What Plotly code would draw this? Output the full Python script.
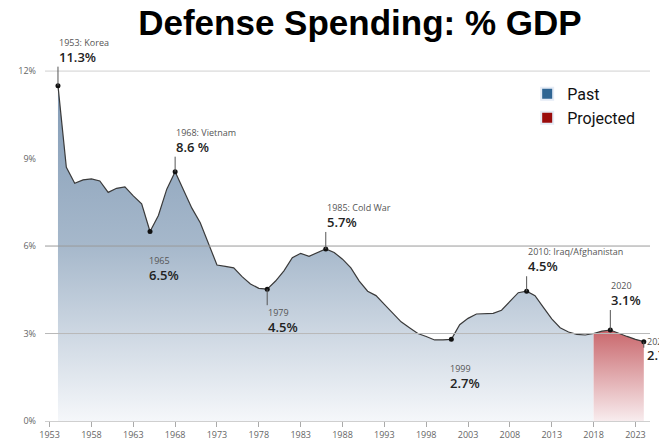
import plotly.graph_objects as go

# ---------------- data ----------------
years = list(range(1954, 2025))
spending_pct = [11.5, 8.7, 8.15, 8.27, 8.3, 8.23, 7.84, 7.98, 8.03, 7.72,
                7.45, 6.5, 7.05, 7.95, 8.55, 7.9, 7.3, 6.8, 6.1, 5.35,
                5.3, 5.25, 4.95, 4.7, 4.55, 4.52, 4.8, 5.15, 5.6, 5.75,
                5.65, 5.78, 5.9, 5.78, 5.55, 5.25, 4.8, 4.45, 4.3, 4.0,
                3.7, 3.4, 3.2, 3.0, 2.9, 2.78, 2.78, 2.8, 3.3, 3.52,
                3.67, 3.69, 3.69, 3.8, 4.1, 4.4, 4.45, 4.3, 3.9, 3.5,
                3.2, 3.05, 2.97, 2.95, 3.0, 3.08, 3.12, 3.0, 2.9, 2.8, 2.72]
projection_start = 2018

event_years = [1954, 1965, 1968, 1979, 1986, 2001, 2010, 2020, 2024]
event_labels = ["1953: Korea", "1965", "1968: Vietnam", "1979", "1985: Cold War",
                "1999", "2010: Iraq/Afghanistan", "2020", "2024"]
event_values = ["11.3%", "6.5%", "8.6 %", "4.5%", "5.7%", "2.7%", "4.5%", "3.1%", "2.7%"]

x_tick_years = list(range(1953, 2024, 5))
y_tick_values = [0, 3, 6, 9, 12]
y_tick_labels = ["0%", "3%", "6%", "9%", "12%"]
grid_values = [12, 6, 3]

# ---------------- styling ----------------
LINE = "#3a3a3a"
grid_colors = {12: "#d0d0d0", 6: "#9a9a9a", 3: "#b8b8b8"}
placement = {
    1954: ("above", -19), 1965: ("below_free", -22), 1968: ("above", -15),
    1979: ("below", 16), 1986: ("above", -17), 2001: ("below_free", -22),
    2010: ("above", -15), 2020: ("above", -20), 2024: ("right", 16),
}

value_of = dict(zip(years, spending_pct))
past_x = [y for y in years if y <= projection_start]
past_y = [value_of[y] for y in past_x]
proj_x = [y for y in years if y >= projection_start]
proj_y = [value_of[y] for y in proj_x]

fig = go.Figure()
fig.add_trace(go.Scatter(
    x=past_x, y=past_y, mode="lines", fill="tozeroy",
    line=dict(color=LINE, width=1.2),
    fillgradient=dict(type="vertical", start=0, stop=12,
                      colorscale=[[0, "#f5f7fa"], [0.5, "#a6b8cb"], [1, "#8099b4"]]),
    showlegend=False, hoverinfo="skip"))
fig.add_trace(go.Scatter(
    x=proj_x, y=proj_y, mode="lines", fill="tozeroy",
    line=dict(color=LINE, width=1.2),
    fillgradient=dict(type="vertical", start=0, stop=3.12,
                      colorscale=[[0, "#f8ecee"], [1, "#c9676c"]]),
    showlegend=False, hoverinfo="skip"))
fig.add_trace(go.Scatter(
    x=event_years, y=[value_of[y] for y in event_years], mode="markers",
    marker=dict(color="#111111", size=5), showlegend=False, hoverinfo="skip"))

# legend entries
fig.add_trace(go.Bar(x=[None], y=[None], name="Past", marker_color="#2f6593"))
fig.add_trace(go.Bar(x=[None], y=[None], name="Projected", marker_color="#9a0c0c"))

for gv in grid_values:
    fig.add_shape(type="line", xref="paper", x0=0, x1=1, yref="y", y0=gv, y1=gv,
                  line=dict(color=grid_colors[gv], width=1), layer="above")

annotations = []
for yr, lab, val in zip(event_years, event_labels, event_values):
    side, off = placement[yr]
    txt = ("<span style='font-size:9px;color:#555'>" + lab + "</span><br>"
           "<span style='font-size:13px;color:#222;font-weight:600'>" + val + "</span>")
    yv = value_of[yr]
    if side == "above":
        annotations.append(dict(x=yr, y=yv, text=txt, showarrow=True, arrowhead=0,
                                arrowwidth=1, arrowcolor="#555", ax=0, ay=off,
                                xanchor="left", yanchor="bottom", align="left",
                                standoff=0, borderpad=0))
    elif side == "below":
        annotations.append(dict(x=yr, y=yv, text=txt, showarrow=True, arrowhead=0,
                                arrowwidth=1, arrowcolor="#555", ax=0, ay=off,
                                xanchor="left", yanchor="top", align="left",
                                standoff=0, borderpad=0))
    elif side == "below_free":
        annotations.append(dict(x=yr, y=yv, text=txt, showarrow=False,
                                xanchor="left", yanchor="top", align="left",
                                yshift=off, xshift=-2, borderpad=0))
    else:
        # short drop line, then label and value as two separate texts to the right
        annotations.append(dict(x=yr, y=yv, text=" ", showarrow=True, arrowhead=0,
                                arrowwidth=1, arrowcolor="#555", ax=0, ay=off,
                                standoff=0))
        annotations.append(dict(x=yr, y=yv, text=lab, showarrow=False,
                                font=dict(size=9, color="#555"),
                                xanchor="left", yanchor="middle",
                                xshift=2, yshift=0, borderpad=0))
        annotations.append(dict(x=yr, y=yv, text=val, showarrow=False,
                                font=dict(size=13, color="#222", weight=600),
                                xanchor="left", yanchor="middle",
                                xshift=2, yshift=-13, borderpad=0))

# page body adds an 8px margin, so the figure is sized to fill the rest of the window
fig.update_layout(
    width=659, height=433,
    margin=dict(l=37, r=17, t=52, b=20, autoexpand=False),
    paper_bgcolor="white", plot_bgcolor="white",
    font=dict(family="Open Sans, sans-serif", color="#444"),
    title=dict(text="<b>Defense Spending: % GDP</b>", x=0.534, xanchor="center",
               y=0.966, yanchor="middle", yref="container",
               font=dict(family="Liberation Sans, Arial, sans-serif", size=35, color="#000")),
    showlegend=True,
    legend=dict(x=0.797, y=0.953, xanchor="left", yanchor="top",
                font=dict(family="Roboto, sans-serif", size=16, color="#111"),
                bgcolor="rgba(0,0,0,0)", tracegroupgap=0, itemsizing="constant"),
    annotations=annotations,
    xaxis=dict(range=[1952.45, 2024.74], tickvals=x_tick_years,
               ticktext=[str(t) for t in x_tick_years],
               ticks="outside", ticklen=5, tickcolor="#aaa",
               showline=True, linecolor="#cfcfcf", linewidth=1,
               showgrid=False, zeroline=False, automargin=False,
               tickfont=dict(size=9, color="#666")),
    yaxis=dict(range=[0, 12.38], tickvals=y_tick_values, ticktext=y_tick_labels,
               showgrid=False, zeroline=False, showline=False, ticks="",
               automargin=False, ticklabelstandoff=8,
               tickfont=dict(size=9, color="#666")),
)

fig.write_html("out.html")
